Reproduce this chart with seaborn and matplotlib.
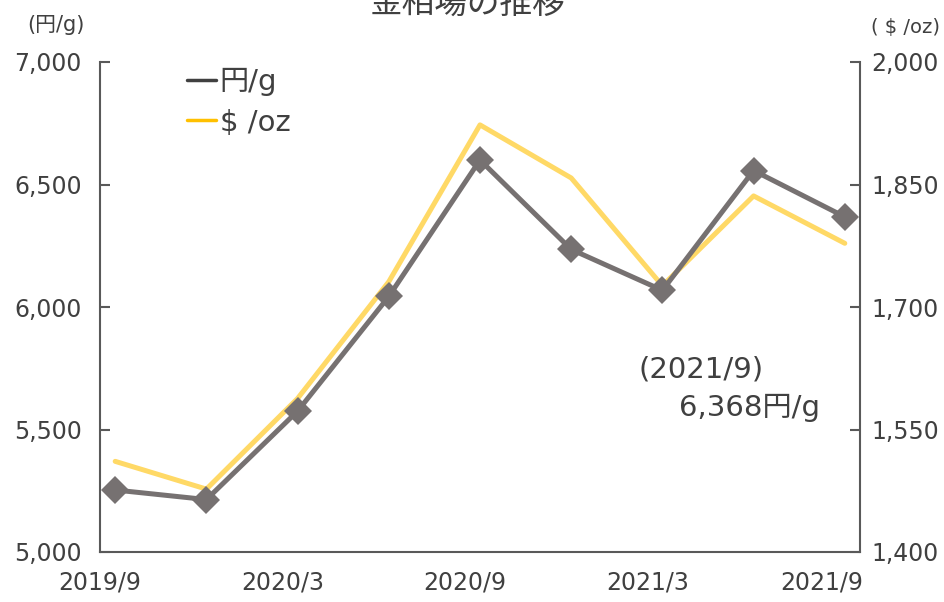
import matplotlib

matplotlib.use("Agg")
import matplotlib.pyplot as plt
import pandas as pd
import seaborn as sns
from matplotlib.lines import Line2D
from matplotlib.transforms import ScaledTranslation

# 四半期ごとの金相場
months = ["2019/9", "2019/12", "2020/3", "2020/6", "2020/9", "2020/12", "2021/3", "2021/6", "2021/9"]
yen_per_g = [5253, 5214, 5575, 6043, 6600, 6235, 6068, 6557, 6368]
usd_per_oz = [1511, 1477, 1588, 1731, 1923, 1858, 1726, 1836, 1778]
tick_labels = ["2019/9", "2020/3", "2020/9", "2021/3", "2021/9"]

GRAY = "#767171"
GOLD = "#FFD966"
TEXT = "#404040"

sns.set_theme(style="white")
# 欧文は幅の広い DejaVu、漢字は Noto CJK
plt.rcParams["font.family"] = ["DejaVu Sans", "Noto Sans CJK JP"]

# 月数に変換して月の中央に点を置く
dates = pd.to_datetime(months, format="%Y/%m")
start = dates[0]
month_pos = [(d.year - start.year) * 12 + (d.month - start.month) + 0.5 for d in dates]
df = pd.DataFrame({"pos": month_pos, "yen": yen_per_g, "usd": usd_per_oz})

fig = plt.figure(figsize=(9.45, 6.02), dpi=100)
ax = fig.add_axes([100 / 945, 1 - 552 / 602, 760 / 945, 490 / 602])
ax2 = ax.twinx()

sns.lineplot(data=df, x="pos", y="usd", ax=ax2, color=GOLD, linewidth=3.6, zorder=2)
sns.lineplot(data=df, x="pos", y="yen", ax=ax, color=GRAY, linewidth=3.6,
             marker="D", markersize=14, markeredgewidth=0, zorder=3)
ax.set_zorder(ax2.get_zorder() + 1)
ax.patch.set_visible(False)

ax.set_xlim(0, 25)
ax.set_ylim(5000, 7000)
ax2.set_ylim(1400, 2000)
ax.set_xticks([0, 6, 12, 18, 24])
ax.set_xticklabels(tick_labels)
ax.set_yticks(range(5000, 7001, 500))
ax.set_yticklabels([f"{v:,}" for v in range(5000, 7001, 500)])
ax2.set_yticks(range(1400, 2001, 150))
ax2.set_yticklabels([f"{v:,}" for v in range(1400, 2001, 150)])
ax.set_xlabel("")
ax.set_ylabel("")
ax2.set_ylabel("")

for a in (ax, ax2):
    a.tick_params(axis="both", direction="in", length=7, width=1.5, color="#595959",
                  labelsize=17, labelcolor=TEXT, pad=13)
    for side in ("left", "right", "bottom"):
        a.spines[side].set_color("#595959")
        a.spines[side].set_linewidth(1.5)
    a.spines["top"].set_visible(False)
    a.grid(False)
ax.tick_params(axis="x", pad=13)
ax2.tick_params(axis="y", pad=8)
ax.spines["right"].set_visible(False)
ax2.spines["left"].set_visible(False)
ax2.spines["bottom"].set_visible(False)

# 右端のラベルは枠内に寄せる
last = ax.get_xticklabels()[-1]
last.set_transform(last.get_transform() + ScaledTranslation(-8 / 100, 0, fig.dpi_scale_trans))

handles = [Line2D([], [], color=TEXT, linewidth=2.5),
           Line2D([], [], color="#FFC000", linewidth=2.5)]
ax.legend(handles, ["円/g", "$ /oz"], loc="upper left", bbox_to_anchor=(0.080, 1.041),
          frameon=False, fontsize=21, handlelength=1.0, handletextpad=0.12,
          labelspacing=0.42, labelcolor=TEXT)

ax.text(0.709, 0.373, "(2021/9)", transform=ax.transAxes, fontsize=21, color=TEXT,
        ha="left", va="center")
ax.text(0.762, 0.295, "6,368円/g", transform=ax.transAxes, fontsize=21, color=TEXT,
        ha="left", va="center")

fig.text(56 / 945, 1 - 25 / 602, "(円/g)", fontsize=15, color=TEXT, ha="center", va="center")
fig.text(906 / 945, 1 - 27 / 602, "( $ /oz)", fontsize=14, color=TEXT, ha="center", va="center")
fig.text(468 / 945, 1 - 4 / 602, "金相場の推移", fontsize=23.5, color=TEXT, ha="center", va="center")

fig.savefig("out.png", dpi=100)
plt.close(fig)
